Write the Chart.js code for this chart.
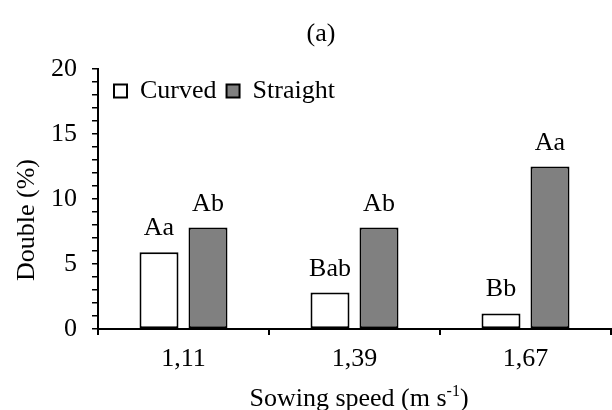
<!DOCTYPE html>
<html>
<head>
<meta charset="utf-8">
<script src="https://cdn.jsdelivr.net/npm/chart.js@4.4.0/dist/chart.umd.min.js"></script>
<style>
    html, body { margin: 0; padding: 0; background: #fff; }
</style>
</head>
<body>
<canvas id="myBarChart" width="612" height="410"></canvas>
<script>
// Data
const speeds = ['1,11', '1,39', '1,67'];
const curvedValues = [5.9, 2.8, 1.2];
const straightValues = [7.8, 7.8, 12.5];
const curvedLetters = ['Aa', 'Bab', 'Bb'];
const straightLetters = ['Ab', 'Ab', 'Aa'];
const yLabels = [0, 5, 10, 15, 20];

const serif = '"Liberation Serif", "Times New Roman", serif';
const fontSize = 26;

// letters over bars, titles, legend placed inside the plot
const annotations = {
    id: 'annotations',
    afterLayout(chart) {
        const lg = chart.legend;
        const dy = 68 - lg.top;
        lg.top += dy;
        lg.bottom += dy;
        lg.left += 6;
        lg.right += 6;
    },
    afterDatasetsDraw(chart) {
        const ctx = chart.ctx;
        ctx.save();
        ctx.fillStyle = '#000';
        ctx.font = fontSize + 'px ' + serif;
        ctx.textAlign = 'center';
        ctx.textBaseline = 'alphabetic';
        [curvedLetters, straightLetters].forEach((letters, i) => {
            chart.getDatasetMeta(i).data.forEach((bar, j) => {
                ctx.fillText(letters[j], bar.x, bar.y - 17);
            });
        });

        ctx.fillText('(a)', 321, 41);

        // y title
        ctx.save();
        ctx.translate(34, 220);
        ctx.rotate(-Math.PI / 2);
        ctx.fillText('Double (%)', 0, 0);
        ctx.restore();

        // x title with superscript
        const partA = 'Sowing speed (m s';
        const sup = '-1';
        const partB = ')';
        ctx.font = fontSize + 'px ' + serif;
        const wA = ctx.measureText(partA).width;
        const wB = ctx.measureText(partB).width;
        ctx.font = '16px ' + serif;
        const wS = ctx.measureText(sup).width;
        const total = wA + wS + wB;
        const x0 = 359 - total / 2;
        const base = 406;
        ctx.textAlign = 'left';
        ctx.font = fontSize + 'px ' + serif;
        ctx.fillText(partA, x0, base);
        ctx.font = '16px ' + serif;
        ctx.fillText(sup, x0 + wA, base - 10);
        ctx.font = fontSize + 'px ' + serif;
        ctx.fillText(partB, x0 + wA + wS, base);
        ctx.restore();
    }
};

const ctx = document.getElementById('myBarChart').getContext('2d');
const myBarChart = new Chart(ctx, {
    type: 'bar',
    data: {
        labels: speeds,
        datasets: [{
            label: 'Curved',
            data: curvedValues,
            backgroundColor: '#ffffff',
            borderColor: '#000000',
            borderWidth: 2,
            borderSkipped: false
        }, {
            label: 'Straight',
            data: straightValues,
            backgroundColor: '#808080',
            borderColor: '#000000',
            borderWidth: 2,
            borderSkipped: false
        }]
    },
    options: {
        responsive: false,
        animation: false,
        devicePixelRatio: 1,
        categoryPercentage: 0.573,
        barPercentage: 0.796,
        layout: { padding: { top: 23, right: 1, left: 0, bottom: 0 } },
        plugins: {
            title: { display: false },
            tooltip: { enabled: false },
            legend: {
                display: true,
                position: 'top',
                align: 'start',
                fullSize: false,
                labels: {
                    boxWidth: 13,
                    boxHeight: 13,
                    padding: 10,
                    color: '#000',
                    font: { family: serif, size: fontSize }
                }
            }
        },
        scales: {
            x: {
                offset: true,
                grid: {
                    offset: true,
                    drawOnChartArea: false,
                    drawTicks: true,
                    tickLength: 6,
                    color: '#000',
                    lineWidth: 2
                },
                border: { display: true, color: '#000', width: 2 },
                ticks: {
                    color: '#000',
                    padding: 9,
                    font: { family: serif, size: fontSize }
                },
                afterFit: scale => { scale.height = 81; }
            },
            y: {
                min: 0,
                max: 20,
                grid: {
                    drawOnChartArea: false,
                    drawTicks: true,
                    tickLength: 6,
                    color: '#000',
                    lineWidth: 1.5
                },
                border: { display: true, color: '#000', width: 2 },
                ticks: {
                    stepSize: 1,
                    autoSkip: false,
                    padding: 15,
                    color: '#000',
                    font: { family: serif, size: fontSize },
                    callback: value => yLabels.includes(value) ? String(value) : ''
                },
                afterFit: scale => { scale.width = 98; }
            }
        }
    },
    plugins: [annotations]
});
</script>
</body>
</html>
